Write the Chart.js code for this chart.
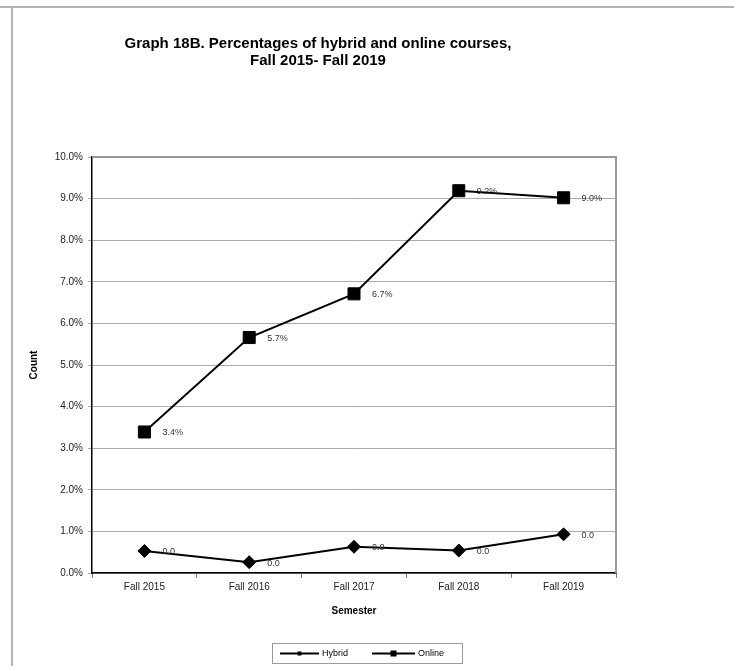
<!DOCTYPE html>
<html><head><meta charset="utf-8">
<script src="https://cdn.jsdelivr.net/npm/chart.js@4.4.1/dist/chart.umd.min.js"></script>
<style>
html,body{margin:0;padding:0;background:#fff;}
#wrap{position:relative;width:734px;height:666px;overflow:hidden;}
#topline{position:absolute;left:0;top:6px;width:734px;height:2px;background:#b4b4b4;}
#leftline{position:absolute;left:11px;top:6px;width:2px;height:660px;background:#b4b4b4;}
canvas{position:absolute;left:0;top:0;}
</style></head><body>
<div id="wrap"><canvas id="c" width="734" height="666"></canvas><div id="topline"></div><div id="leftline"></div></div>
<script>
const categories = ['Fall 2015', 'Fall 2016', 'Fall 2017', 'Fall 2018', 'Fall 2019'];
const hybridValues = [0.53, 0.26, 0.63, 0.54, 0.93];
const onlineValues = [3.39, 5.66, 6.71, 9.19, 9.02];
const hybridLabels = ['0.0', '0.0', '0.0', '0.0', '0.0'];
const onlineLabels = ['3.4%', '5.7%', '6.7%', '9.2%', '9.0%'];
const yMin = 0, yMax = 10, yStep = 1;

const FONT = 'Arial, "Liberation Sans", sans-serif';

const extras = {
  id: 'extras',
  afterDatasetsDraw(chart) {
    const ctx = chart.ctx;
    ctx.save();
    ctx.font = '9px ' + FONT;
    ctx.fillStyle = '#333';
    ctx.textBaseline = 'middle';
    ctx.textAlign = 'left';
    chart.data.datasets.forEach((ds, i) => {
      const meta = chart.getDatasetMeta(i);
      meta.data.forEach((pt, j) => ctx.fillText(ds.pointText[j], pt.x + 18, pt.y + 1));
    });
    ctx.restore();
  },
  afterDraw(chart) {
    const ctx = chart.ctx, a = chart.chartArea;
    ctx.save();
    ctx.strokeStyle = '#9a9a9a';
    ctx.lineWidth = 2;
    ctx.beginPath();
    ctx.moveTo(a.left, a.top);
    ctx.lineTo(a.right, a.top);
    ctx.lineTo(a.right, a.bottom);
    ctx.stroke();
    // legend
    const bx = 272, by = 643, bw = 190, bh = 20;
    ctx.strokeStyle = '#9a9a9a';
    ctx.lineWidth = 1;
    ctx.strokeRect(bx + 0.5, by + 0.5, bw, bh);
    const cy = by + bh / 2 + 0.5;
    const items = [
      {x0: 280, x1: 319, tx: 322, ds: 0, r: 2},
      {x0: 372, x1: 415, tx: 418, ds: 1, r: 3}
    ];
    ctx.font = '9px ' + FONT;
    ctx.textBaseline = 'middle';
    ctx.textAlign = 'left';
    items.forEach(it => {
      ctx.strokeStyle = '#000';
      ctx.lineWidth = 2;
      ctx.beginPath();
      ctx.moveTo(it.x0, cy);
      ctx.lineTo(it.x1, cy);
      ctx.stroke();
      ctx.fillStyle = '#000';
      const mx = (it.x0 + it.x1) / 2;
      ctx.fillRect(mx - it.r, cy - it.r, it.r * 2, it.r * 2);
      ctx.fillText(chart.data.datasets[it.ds].label, it.tx, cy);
    });
    ctx.restore();
  }
};

new Chart(document.getElementById('c'), {
  type: 'line',
  data: {
    labels: categories,
    datasets: [
      {
        label: 'Hybrid', data: hybridValues, pointText: hybridLabels,
        borderColor: '#000', backgroundColor: '#000', borderWidth: 2,
        pointStyle: 'rectRot', pointRadius: 6.5, pointBorderWidth: 1, tension: 0
      },
      {
        label: 'Online', data: onlineValues, pointText: onlineLabels,
        borderColor: '#000', backgroundColor: '#000', borderWidth: 2,
        pointStyle: 'rect', pointRadius: 8.5, pointBorderWidth: 1, tension: 0
      }
    ]
  },
  options: {
    responsive: false,
    animation: false,
    devicePixelRatio: 1,
    layout: {padding: {left: 20, right: 118, top: 0, bottom: 43}},
    plugins: {
      legend: {display: false},
      tooltip: {enabled: false},
      title: {
        display: true,
        text: ['Graph 18B. Percentages of hybrid and online courses,', 'Fall 2015- Fall 2019'],
        color: '#000',
        font: {family: FONT, size: 15, weight: 'bold', lineHeight: 17 / 15},
        padding: {top: 35, bottom: 88}
      }
    },
    scales: {
      x: {
        type: 'category',
        offset: true,
        afterFit(s) { s.height = 50; },
        grid: {offset: true, drawOnChartArea: false, drawTicks: true, tickLength: 5, color: '#777'},
        border: {display: true, color: '#000', width: 1.5},
        ticks: {color: '#222', font: {family: FONT, size: 10}, padding: 3, maxRotation: 0},
        title: {display: true, text: 'Semester', color: '#000', font: {family: FONT, size: 10, weight: 'bold'}, padding: {top: 0, bottom: 6}}
      },
      y: {
        min: yMin, max: yMax,
        afterFit(s) { s.width = 72; },
        grid: {color: '#aaa', lineWidth: 1, tickLength: 4},
        border: {display: true, color: '#000', width: 1.5},
        ticks: {stepSize: yStep, color: '#222', font: {family: FONT, size: 10}, padding: 5,
          callback: v => v.toFixed(1) + '%'},
        title: {display: true, text: 'Count', color: '#000', font: {family: FONT, size: 10, weight: 'bold'}, padding: {top: 8, bottom: 0}}
      }
    }
  },
  plugins: [extras]
});
</script>
</body></html>
